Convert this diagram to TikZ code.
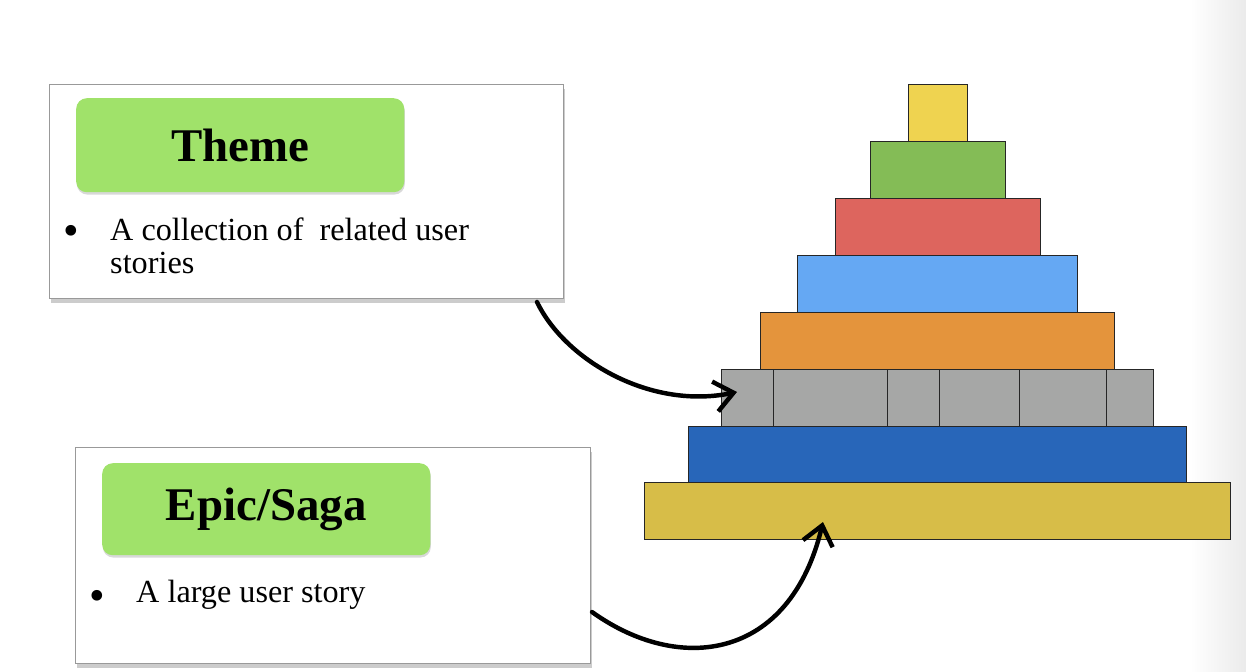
\documentclass[tikz,border=0pt]{standalone}
\usepackage{fontspec}
\setmainfont{Liberation Serif}
\usetikzlibrary{arrows.meta,shadows}
\definecolor{tagGreen}{RGB}{160,226,106}
\definecolor{capYellow}{RGB}{239,211,80}
\definecolor{leafGreen}{RGB}{132,188,86}
\definecolor{brickRed}{RGB}{221,101,94}
\definecolor{skyBlue}{RGB}{101,168,243}
\definecolor{pumpkin}{RGB}{228,148,60}
\definecolor{stoneGrey}{RGB}{166,167,166}
\definecolor{navyBlue}{RGB}{40,102,185}
\definecolor{baseGold}{RGB}{215,189,72}
\begin{document}
\begin{tikzpicture}[x=0.03cm, y=-0.03cm,
	card/.style={draw=black!40, fill=white, line width=0.7pt, anchor=north west, inner sep=0pt, drop shadow={shadow xshift=1.5pt, shadow yshift=-4pt, opacity=0.4}},
	tag/.style={fill=tagGreen, rounded corners=9pt, anchor=north west, inner sep=0pt, font=\fontsize{40}{44}\selectfont\bfseries, drop shadow={shadow xshift=0.5pt, shadow yshift=-2pt, opacity=0.3}},
	body/.style={anchor=north west, inner sep=0pt, align=left, font=\fontsize{27.5}{28.2}\selectfont},
	dot/.style={inner sep=0pt, font=\fontsize{38}{38}\selectfont},
	layer/.style={draw=black!85, line width=0.6pt},
	scrawl/.style={line width=3.8pt, line cap=round, line join=round, -{Straight Barb[length=16pt, width=26pt, line width=3.8pt]}}]
	\useasboundingbox (0,0) rectangle (1246,672);
	\shade[left color=white, right color=black!8] (1190,0) rectangle (1246,672);
	
	% theme card
	\node[card, minimum width=15.42cm, minimum height=6.42cm] (themecard) at (49,84) {};
	\node[tag, minimum width=9.84cm, minimum height=2.82cm] (themetag) at (76,98) {Theme};
	\node[dot] (themedot) at (71,235) {•};
	\node[body] (themetext) at (110,218) {A collection of\ \ related user\\stories};
	
	% epic card
	\node[card, minimum width=15.45cm, minimum height=6.48cm] (epiccard) at (75,447) {};
	\node[tag, minimum width=9.84cm, minimum height=2.76cm] (epictag) at (102,463) {Epic/Saga};
	\node[dot] (epicdot) at (97,600) {•};
	\node[body] (epictext) at (136,580) {A large user story};
	
	% pyramid
	\foreach \l/\t/\r/\b/\c in {908/84/967/141/capYellow, 870/141/1005/198/leafGreen, 835/198/1040/255/brickRed, 797/255/1077/312/skyBlue, 760/312/1114/369/pumpkin, 721/369/1153/426/stoneGrey, 688/426/1186/482/navyBlue, 644/482/1230/539/baseGold}
		\filldraw[layer, fill=\c] (\l,\t) rectangle (\r,\b);
	\foreach \x in {773,887,939,1019,1106}
		\draw[layer] (\x,369) -- (\x,426);
	
	\coordinate (themetail) at (537,302);
	\coordinate (greyhit) at (737,392);
	\coordinate (epictail) at (592,612);
	\coordinate (goldhit) at (823,522);
	\draw[scrawl] (themetail) .. controls (565,360) and (650,410) .. (greyhit);
	\draw[scrawl] (epictail) .. controls (680,675) and (790,660) .. (goldhit);
\end{tikzpicture}
\end{document}
